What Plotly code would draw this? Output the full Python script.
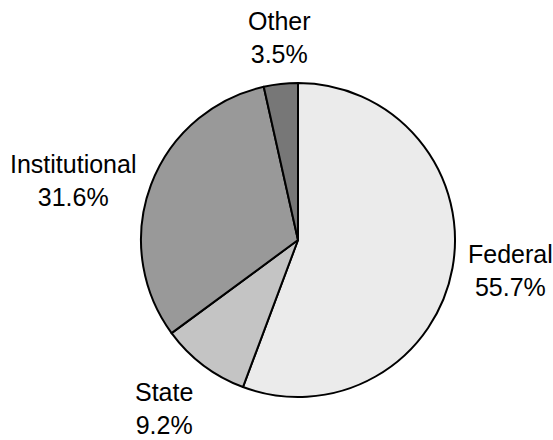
import math
import plotly.graph_objects as go

categories = ["Federal", "State", "Institutional", "Other"]
shares = [55.7, 9.2, 31.6, 3.5]
colors = ["#ebebeb", "#c4c4c4", "#999999", "#777777"]

W, H = 553, 440
CX, CY, R = 298, 240, 157     # pie centre and radius in pixels (layout)
GAP = 14                      # distance of labels from the rim

fig = go.Figure(go.Pie(
    labels=categories,
    values=shares,
    sort=False,
    direction="clockwise",
    rotation=0,
    marker=dict(colors=colors, line=dict(color="#000000", width=2)),
    textinfo="none",
    hoverinfo="skip",
    domain=dict(x=[(CX - 200) / W, (CX + 200) / W], y=[(H - CY - R) / H, (H - CY + R) / H]),
    showlegend=False,
))

total = sum(shares)
cum = 0.0
annotations = []
for name, val in zip(categories, shares):
    mid = (cum + val / 2) / total * 2 * math.pi
    cum += val
    s, c = math.sin(mid), math.cos(mid)
    px = CX + (R + GAP) * s
    py = CY - (R + GAP) * c
    xanchor = "left" if s > 0.5 else ("right" if s < -0.5 else "center")
    yanchor = "bottom" if c > 0.5 else ("top" if c < -0.5 else "middle")
    annotations.append(dict(
        x=px / W, y=1 - py / H, xref="paper", yref="paper",
        text=f"{name}<br>{val:.1f}%", showarrow=False,
        xanchor=xanchor, yanchor=yanchor, align="center",
        font=dict(family="Liberation Sans, Arial, sans-serif", size=25, color="#000000"),
    ))

fig.update_layout(
    width=W, height=H,
    margin=dict(l=0, r=0, t=0, b=0),
    paper_bgcolor="#ffffff",
    plot_bgcolor="#ffffff",
    showlegend=False,
    annotations=annotations,
)

fig.write_html("out.html", config={"displayModeBar": False},
               post_script="document.body.style.margin='0';")
